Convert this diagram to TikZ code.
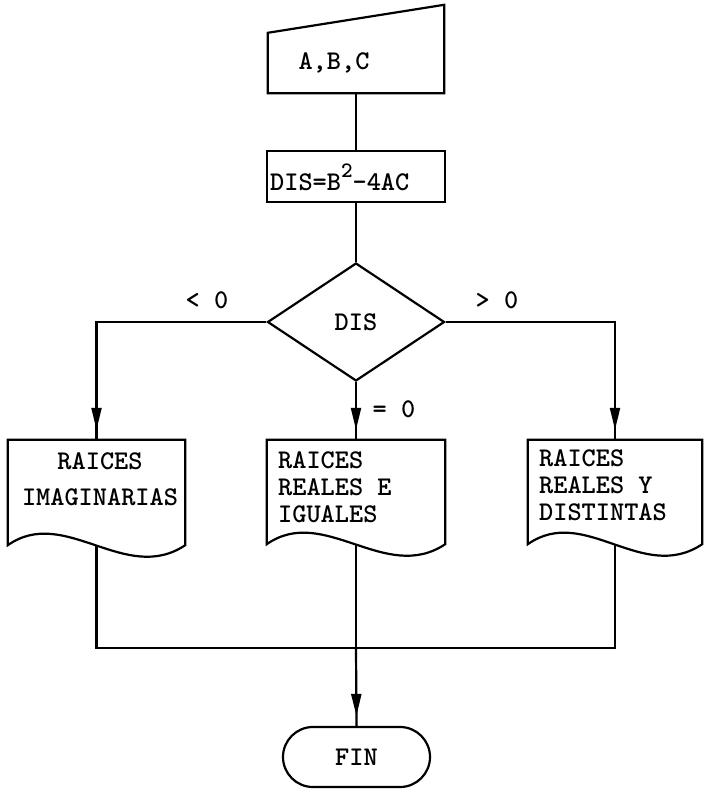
\documentclass[tikz,border=0pt]{standalone}
\usepackage{fontspec}
\usetikzlibrary{arrows.meta,shapes.geometric,decorations.markings}
\tikzset{
  ln/.style={line width=2.2pt, line join=miter},
  txt/.style={font=\ttfamily\bfseries\fontsize{27}{27}\selectfont, inner sep=0pt},
  flow/.style={ln, postaction={decorate}, decoration={markings,
      mark=at position -10pt with {\arrow{Triangle[length=22pt,width=10pt]}}}},
  holder/.style={draw=none, rectangle, inner sep=0pt},
  decis/.style={diamond, draw, ln, aspect=1.5, minimum width=177pt, minimum height=118pt, inner sep=0pt},
  termbox/.style={rectangle, draw, ln, rounded corners=30pt, minimum width=147pt, minimum height=60pt, inner sep=0pt},
}
\newcommand\docshape[1]{%
  \draw[ln] (#1.south west) -- (#1.north west) -- (#1.north east) -- (#1.south east)
    .. controls ([shift={(-60,40)}]#1.south east) and ([shift={(57,-40)}]#1.south west) .. (#1.south west) -- cycle;}
\begin{document}
\begin{tikzpicture}[x=1pt,y=-1pt]
\useasboundingbox (0,0) rectangle (707,791);
% input
\node[holder, minimum width=176pt, minimum height=88pt] (inp) at (356,49) {};
\draw[ln] (inp.south west) -- (inp.south east) -- (inp.north east) -- ([shift={(0,28)}]inp.north west) -- cycle;
\node[txt] (inpT) at (334,63) {A,B,C};
% process
\node[holder, draw, ln, minimum width=178pt, minimum height=51pt] (dis) at (356,176.5) {};
\node[txt, anchor=base west] (disT) at (270,191) {DIS=B\raisebox{13pt}{\fontsize{22}{22}\selectfont 2}-4AC};
% decision
\node[decis, txt] (dec) at (356,322) {DIS};
% documents
\node[holder, minimum width=177pt, minimum height=105pt] (d1) at (96.5,492.5) {};
\node[holder, minimum width=178pt, minimum height=104pt] (d2) at (356,492) {};
\node[holder, minimum width=174pt, minimum height=104pt] (d3) at (615,492) {};
\docshape{d1}
\docshape{d2}
\docshape{d3}
\node[txt, align=center, anchor=north] (t1) at (100,452) {RAICES\\[9pt]IMAGINARIAS};
\node[txt, align=left, anchor=north west] (t2) at (278,451) {RAICES\\REALES E\\IGUALES};
\node[txt, align=left, anchor=north west] (t3) at (539,449) {RAICES\\REALES Y\\DISTINTAS};
% terminal
\node[termbox, txt] (fin) at (356.5,757) {FIN};
% labels
\node[txt] (lneg) at (207,300) {< 0};
\node[txt] (lpos) at (497,300) {> 0};
\node[txt] (lzero) at (394,409) {= 0};
% connectors
\draw[ln] (inp.south) -- (dis.north);
\draw[ln] (dis.south) -- (dec.north);
\draw[flow] (dec.west) -| (d1.north);
\draw[flow] (dec.south) -- (d2.north);
\draw[flow] (dec.east) -| (d3.north);
\coordinate (j) at (356,648);
\draw[ln] (d1.south) |- (j) -| (d3.south);
\draw[ln] (d2.south) -- (j);
\draw[flow] (j) -- (fin.north);
\end{tikzpicture}
\end{document}
